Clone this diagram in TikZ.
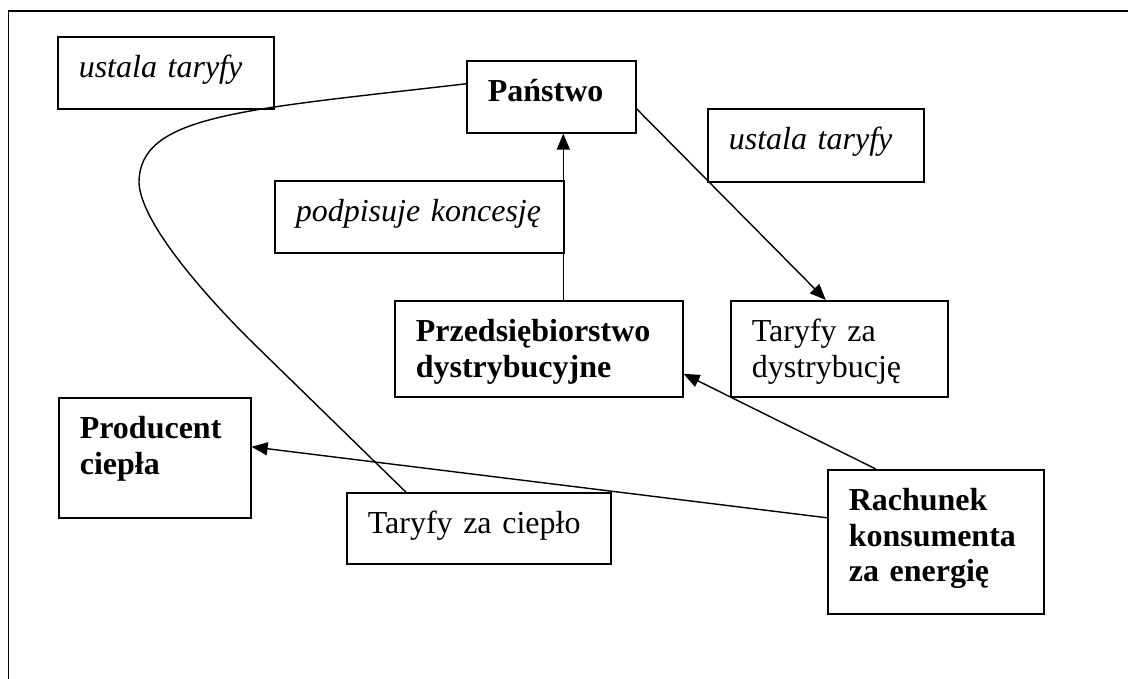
\documentclass[tikz,border=0pt]{standalone}
\usepackage{fontspec}
\setmainfont{Liberation Serif}
\usepackage{tikz}
\usetikzlibrary{arrows.meta,calc}
\newcommand{\diagfont}{\fontsize{32pt}{35.5pt}\selectfont}

\begin{document}
\begin{tikzpicture}[x=1pt, y=-1pt,
  tb/.style={draw, line width=1.6pt, anchor=north west, inner xsep=21pt, inner ysep=0pt,
    text height=41pt, align=left, font=\diagfont},
  arr/.style={line width=1.4pt, -{Triangle[length=16pt, width=13pt]}}]
\useasboundingbox (0,0) rectangle (1128,679);
\draw[line width=1.6pt] (8.6,679) -- (8.6,11) -- (1128,11);
% boxes: top-left corner, text width = W-42, text depth = H-41
\node[tb, text width=174pt, text depth=31pt] (ust1) at (57,36) {\itshape ustala taryfy};
\node[tb, text width=127pt, text depth=31pt] (pan) at (466,60) {\bfseries Państwo};
\node[tb, text width=174pt, text depth=32pt] (ust2) at (707,108) {\itshape ustala taryfy};
\node[tb, text width=247pt, text depth=31pt] (pod) at (274,180) {\itshape podpisuje koncesję};
\node[tb, text width=246pt, text depth=55pt] (prz) at (394,300) {\bfseries Przedsiębiorstwo\\ \bfseries dystrybucyjne};
\node[tb, text width=175pt, text depth=55pt] (tdy) at (730,300) {Taryfy za\\ dystrybucję};
\node[tb, text width=150pt, text depth=79pt] (pro) at (58,397) {\bfseries Producent\\ \bfseries ciepła};
\node[tb, text width=222pt, text depth=30pt] (tcie) at (346,492) {Taryfy za ciepło};
\node[tb, text width=174pt, text depth=103pt] (rach) at (827,469) {\bfseries Rachunek\\ \bfseries konsumenta\\ \bfseries za energię};
% connectors
\coordinate (v) at ([xshift=24.5pt]prz.north);
\draw[arr] (v) -- (v |- pan.south);
\draw[arr] ([yshift=-12pt]pan.east) -- ([xshift=-13.5pt]tdy.north);
\draw[arr] ([xshift=-60pt]rach.north) -- ([yshift=-25pt]prz.east);
\draw[arr] ([yshift=24pt]rach.west) -- ([yshift=11pt]pro.east);
\draw[line width=1.4pt] ([yshift=13pt]pan.west) .. controls (240,110) and (139,115) .. (139,183)
  .. controls (141,220) and (195,285) .. (250,340) -- ([xshift=-73pt]tcie.north);
\end{tikzpicture}
\end{document}
